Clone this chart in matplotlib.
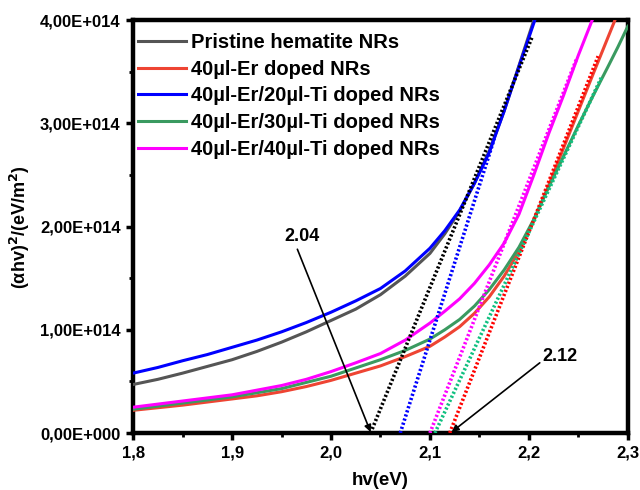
import numpy as np
import matplotlib
matplotlib.use('Agg')
import matplotlib.pyplot as plt
from matplotlib.ticker import FuncFormatter, MultipleLocator

plt.rcParams['font.family'] = ['Liberation Sans', 'DejaVu Sans']
plt.rcParams['font.weight'] = 'bold'
plt.rcParams['mathtext.default'] = 'bf'

SCALE = 1e14  # series values below are in units of 1e14

# Tauc curves, (alpha*h*nu)^2 vs photon energy
x_pristine = [1.80, 1.825, 1.85, 1.875, 1.90, 1.925, 1.95, 1.975, 2.00, 2.025, 2.05, 2.075,
              2.10, 2.115, 2.13, 2.145, 2.16, 2.175, 2.19, 2.205]
y_pristine = [0.47, 0.52, 0.58, 0.645, 0.71, 0.79, 0.88, 0.98, 1.09, 1.20, 1.34, 1.52,
              1.74, 1.93, 2.15, 2.42, 2.73, 3.12, 3.56, 4.00]

x_er = [1.80, 1.825, 1.85, 1.875, 1.90, 1.925, 1.95, 1.975, 2.00, 2.025, 2.05, 2.075,
        2.10, 2.115, 2.13, 2.145, 2.16, 2.175, 2.19, 2.205, 2.22, 2.235, 2.25, 2.265, 2.287]
y_er = [0.22, 0.245, 0.27, 0.30, 0.33, 0.36, 0.40, 0.45, 0.51, 0.58, 0.65, 0.74,
        0.84, 0.93, 1.03, 1.16, 1.32, 1.52, 1.76, 2.06, 2.40, 2.76, 3.12, 3.48, 4.00]

x_er_ti20 = [1.80, 1.825, 1.85, 1.875, 1.90, 1.925, 1.95, 1.975, 2.00, 2.025, 2.05, 2.075,
             2.10, 2.115, 2.13, 2.145, 2.16, 2.175, 2.19, 2.206]
y_er_ti20 = [0.58, 0.635, 0.70, 0.76, 0.83, 0.90, 0.98, 1.07, 1.17, 1.28, 1.40, 1.57,
             1.79, 1.96, 2.16, 2.42, 2.72, 3.12, 3.55, 4.00]

x_er_ti30 = [1.80, 1.825, 1.85, 1.875, 1.90, 1.925, 1.95, 1.975, 2.00, 2.025, 2.05, 2.075,
             2.10, 2.115, 2.13, 2.145, 2.16, 2.175, 2.19, 2.205, 2.22, 2.235, 2.25, 2.265,
             2.28, 2.29, 2.30]
y_er_ti30 = [0.23, 0.26, 0.29, 0.32, 0.35, 0.39, 0.43, 0.49, 0.55, 0.63, 0.71, 0.80,
             0.91, 1.00, 1.10, 1.23, 1.39, 1.58, 1.80, 2.07, 2.38, 2.68, 2.98, 3.27,
             3.55, 3.74, 3.94]

x_er_ti40 = [1.80, 1.825, 1.85, 1.875, 1.90, 1.925, 1.95, 1.975, 2.00, 2.025, 2.05, 2.075,
             2.10, 2.115, 2.13, 2.145, 2.16, 2.175, 2.19, 2.205, 2.22, 2.235, 2.25, 2.264]
y_er_ti40 = [0.25, 0.28, 0.31, 0.34, 0.37, 0.415, 0.46, 0.52, 0.595, 0.68, 0.77, 0.90,
             1.065, 1.18, 1.30, 1.45, 1.63, 1.84, 2.12, 2.50, 2.90, 3.27, 3.66, 4.00]

# linear fits: x-intercept and upper end of each fitted segment
fit_x0 = [2.04, 2.12, 2.07, 2.105, 2.10]
fit_x1 = [2.203, 2.270, 2.165, 2.274, 2.248]
fit_y1 = [3.83, 3.65, 2.85, 3.46, 3.62]

labels = ['Pristine hematite NRs', '40µl-Er doped NRs', '40µl-Er/20µl-Ti doped NRs',
          '40µl-Er/30µl-Ti doped NRs', '40µl-Er/40µl-Ti doped NRs']
line_colors = ['#555555', '#ee4433', '#0000ff', '#3a9a60', '#ff00ff']
fit_colors = ['#000000', '#ff0000', '#0000ff', '#10c080', '#ff00ff']

series = [(x_pristine, y_pristine), (x_er, y_er), (x_er_ti20, y_er_ti20),
          (x_er_ti30, y_er_ti30), (x_er_ti40, y_er_ti40)]

fig = plt.figure(figsize=(6.4, 4.9), dpi=100)
ax = fig.add_axes([0.208, 0.1163, 0.773, 0.8427])

for (xs, ys), col, lab in zip(series, line_colors, labels):
    ax.plot(xs, np.array(ys) * SCALE, color=col, lw=2.2, label=lab, zorder=3,
            solid_joinstyle='round')

for x0, x1, y1, col in zip(fit_x0, fit_x1, fit_y1, fit_colors):
    ax.plot([x0, x1], [0, y1 * SCALE], color=col, lw=2.6, ls=(0, (0.6, 0.6)), zorder=4)

# band-gap annotations
arrow_kw = dict(arrowstyle='-|>', color='black', lw=1.2, mutation_scale=10, shrinkA=0, shrinkB=0)
ax.annotate('', xy=(2.04, 0.01 * SCALE), xytext=(1.966, 1.78 * SCALE), arrowprops=arrow_kw, zorder=5)
ax.text(1.971, 1.90 * SCALE, '2.04', ha='center', va='center', fontsize=13, fontweight='bold')
ax.annotate('', xy=(2.122, 0.01 * SCALE), xytext=(2.211, 0.68 * SCALE), arrowprops=arrow_kw, zorder=5)
ax.text(2.231, 0.74 * SCALE, '2.12', ha='center', va='center', fontsize=13, fontweight='bold')

ax.set_xlim(1.8, 2.3)
ax.set_ylim(0, 4 * SCALE)
ax.xaxis.set_major_locator(MultipleLocator(0.1))
ax.xaxis.set_minor_locator(MultipleLocator(0.05))
ax.yaxis.set_major_locator(MultipleLocator(1e14))
ax.yaxis.set_minor_locator(MultipleLocator(0.5e14))


def sci_comma(v, pos):
    if v == 0:
        mant, ex = 0.0, 0
    else:
        ex = int(np.floor(np.log10(abs(v))))
        mant = v / 10 ** ex
    return (f'{mant:.2f}E{ex:+04d}').replace('.', ',')


ax.xaxis.set_major_formatter(FuncFormatter(lambda v, p: f'{v:.1f}'.replace('.', ',')))
ax.yaxis.set_major_formatter(FuncFormatter(sci_comma))

for sp in ax.spines.values():
    sp.set_linewidth(3.2)
ax.tick_params(which='major', direction='out', length=5, width=2.5, labelsize=12, pad=4)
ax.tick_params(which='minor', direction='out', length=3, width=2)
for lbl in ax.get_xticklabels() + ax.get_yticklabels():
    lbl.set_fontweight('bold')

ax.set_xlabel('hv(eV)', fontsize=13.5, fontweight='bold', labelpad=8)
ax.set_ylabel('(αhv)$^{2}$/(eV/m$^{2}$)', fontsize=13, fontweight='bold', labelpad=6)

ax.legend(loc='upper left', bbox_to_anchor=(-0.016, 1.0), frameon=False,
          prop={'size': 14.5, 'weight': 'bold'},
          handlelength=2.35, handletextpad=0.25, labelspacing=0.38,
          borderaxespad=0.45, borderpad=0.2)

fig.savefig('out.png', dpi=100)
